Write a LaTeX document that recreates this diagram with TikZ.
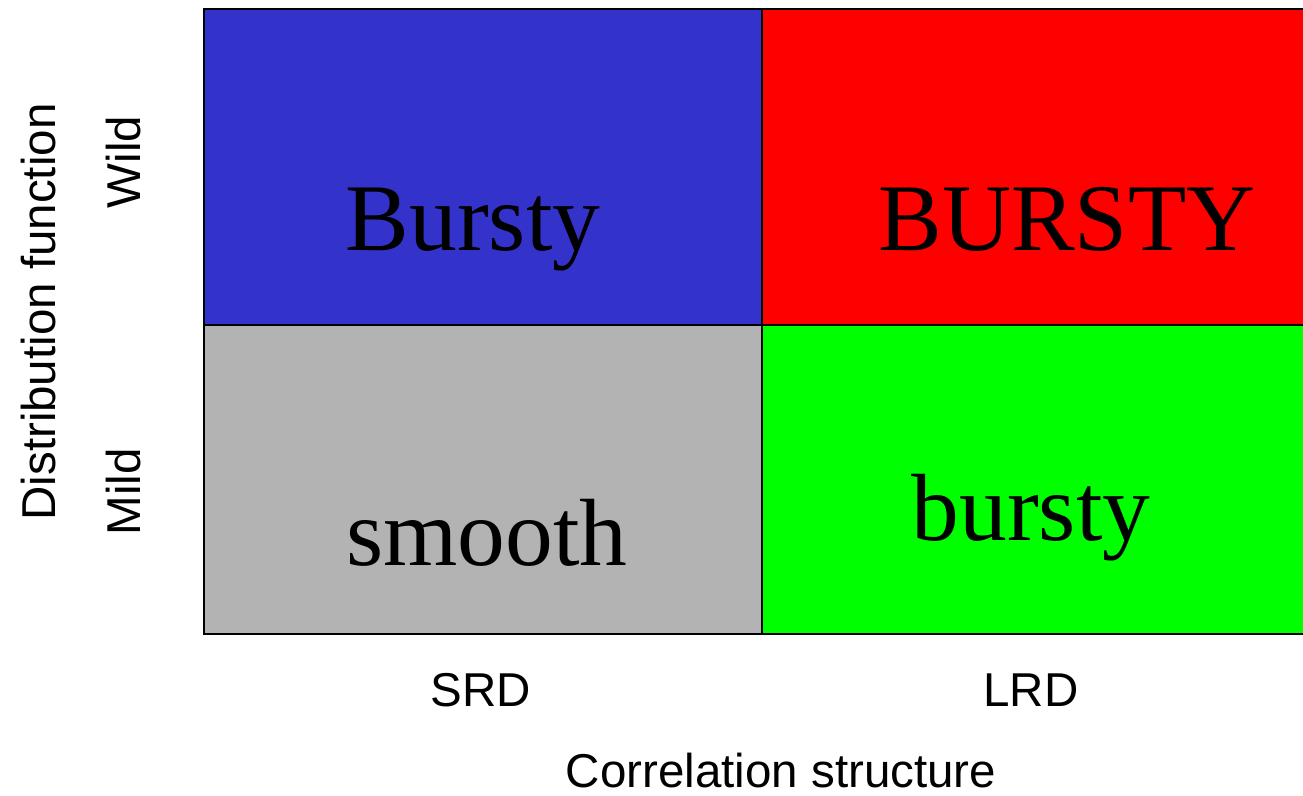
\documentclass[tikz,border=0pt]{standalone}
\usepackage{fontspec}
\setmainfont{Liberation Serif}
\newfontfamily\labelfont{Liberation Sans}
\definecolor{cellblue}{HTML}{3333CC}
\definecolor{cellred}{HTML}{FF0000}
\definecolor{cellgray}{HTML}{B3B3B3}
\definecolor{cellgreen}{HTML}{00FF00}
\tikzset{
  celltext/.style={anchor=base, inner sep=0pt, font=\fontsize{95.5}{95.5}\selectfont},
  axislabel/.style={anchor=base, inner sep=0pt, font=\labelfont\fontsize{47.5}{47.5}\selectfont},
  gridline/.style={line width=2pt, black}
}
\begin{document}
\begin{tikzpicture}[x=1pt, y=-1pt]
  \useasboundingbox (0,0) rectangle (1303,795);
  % quadrant fills
  \fill[cellblue]  (204,9)   rectangle (762,325);
  \fill[cellred]   (762,9)   rectangle (1310,325);
  \fill[cellgray]  (204,325) rectangle (762,634);
  \fill[cellgreen] (762,325) rectangle (1310,634);
  % grid lines
  \draw[gridline] (1310,9) -- (204,9) -- (204,634) -- (1310,634);
  \draw[gridline] (762,9) -- (762,634);
  \draw[gridline] (204,325) -- (1310,325);
  % quadrant labels
  \node[celltext] (wildsrd) at (473,250) {Bursty};
  \node[celltext] (wildlrd) at (1067,250) {BURSTY};
  \node[celltext] (mildsrd) at (487,565) {smooth};
  \node[celltext] (mildlrd) at (1031,540) {bursty};
  % axis labels
  \node[axislabel] (srd) at (481,706) {SRD};
  \node[axislabel] (lrd) at (1031,706) {LRD};
  \node[axislabel] (xtitle) at (781,787) {Correlation structure};
  \node[axislabel, rotate=90] (ytitle) at (55,312) {Distribution function};
  \node[axislabel, rotate=90] (wild) at (140,162) {Wild};
  \node[axislabel, rotate=90] (mild) at (140,492) {Mild};
\end{tikzpicture}
\end{document}
